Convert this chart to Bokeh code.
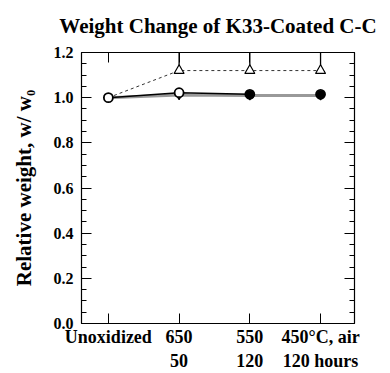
from bokeh.plotting import figure
from bokeh.models import Range1d, FixedTicker, LinearAxis, PrintfTickFormatter
from bokeh.embed import file_html
from bokeh.resources import INLINE

# data
title_text = "Weight Change of K33-Coated C-C"
x_pos = [1, 2, 3, 4]
x_labels = ["Unoxidized", "650\n50", "550\n120", "450°C, air\n120 hours"]
tri_vals = [1.0, 1.12, 1.12, 1.12]
tri_err_top = [1.0, 1.30, 1.30, 1.30]
circ_vals = [1.0, 1.022, 1.015, 1.015]
diam_vals = [1.0, 1.012, 1.010, 1.010]
fill_x = [3, 4]
fill_vals = [1.013, 1.013]
y_ticks = [0.0, 0.2, 0.4, 0.6, 0.8, 1.0, 1.2]
y_minor = [round(i * 0.05, 2) for i in range(25)]

FONT = "Liberation Serif"

p = figure(width=390, height=373, output_backend="svg", toolbar_location=None,
           x_range=Range1d(0.62, 4.48), y_range=Range1d(0.0, 1.2),
           title=title_text,
           min_border_left=81, min_border_right=36, min_border_top=52, min_border_bottom=49)

p.title.align = "center"
p.title.vertical_align = "top"
p.title.text_font = FONT
p.title.text_font_size = "21px"
p.title.text_font_style = "bold"
p.title.text_color = "black"
p.title.standoff = 25
p.title.offset = -10

p.grid.visible = False
p.outline_line_color = "black"
p.outline_line_width = 1.2
p.background_fill_color = "white"
p.border_fill_color = "white"

# x axis (bottom)
xa = p.xaxis[0]
xa.ticker = FixedTicker(ticks=x_pos)
xa.major_label_overrides = {k: v for k, v in zip(x_pos, x_labels)}
xa.major_tick_in = 10
xa.major_tick_out = 0
xa.major_tick_line_color = "black"
xa.minor_tick_line_color = None
xa.axis_line_color = None
xa.major_label_text_font = FONT
xa.major_label_text_font_style = "bold"
xa.major_label_text_font_size = "18px"
xa.major_label_text_color = "black"
xa.major_label_standoff = 3

# y axis (left)
ya = p.yaxis[0]
ya.ticker = FixedTicker(ticks=y_ticks, minor_ticks=y_minor)
ya.formatter = PrintfTickFormatter(format="%.1f")
ya.major_tick_in = 10
ya.major_tick_out = 0
ya.minor_tick_in = 5
ya.minor_tick_out = 0
ya.major_tick_line_color = "black"
ya.minor_tick_line_color = "black"
ya.axis_line_color = None
ya.major_label_text_font = FONT
ya.major_label_text_font_style = "bold"
ya.major_label_text_font_size = "16px"
ya.major_label_text_color = "black"
ya.major_label_standoff = 8
ya.axis_label = "Relative weight, w/ w₀"
ya.axis_label_text_font = FONT
ya.axis_label_text_font_style = "bold"
ya.axis_label_text_font_size = "21px"
ya.axis_label_text_color = "black"
ya.axis_label_standoff = 15

# right axis (ticks only)
ra = LinearAxis(ticker=FixedTicker(ticks=y_ticks, minor_ticks=y_minor),
                major_tick_in=10, major_tick_out=0, minor_tick_in=5, minor_tick_out=0,
                major_tick_line_color="black", minor_tick_line_color="black",
                axis_line_color=None, major_label_text_color=None)
p.add_layout(ra, "right")

# top axis (ticks only)
ta = LinearAxis(ticker=FixedTicker(ticks=x_pos), major_tick_in=10, major_tick_out=0,
                major_tick_line_color="black",
                minor_tick_line_color=None, axis_line_color=None,
                major_label_overrides={k: "" for k in x_pos},
                major_label_standoff=0, major_label_text_color=None)
p.add_layout(ta, "above")

# triangle series with error bars
p.segment(x0=x_pos[1:], y0=tri_vals[1:], x1=x_pos[1:], y1=tri_err_top[1:],
          line_color="black", line_width=1.3)
p.line(x_pos, tri_vals, line_color="#333333", line_width=1, line_dash="3 3")
p.scatter(x_pos[1:], tri_vals[1:], marker="triangle", size=10, fill_color="white",
          line_color="black", line_width=1.2)

# diamond series (grey line)
p.line(x_pos, diam_vals, line_color="#999999", line_width=3)
p.scatter(x_pos, diam_vals, marker="inverted_triangle", size=8, fill_color="white",
          line_color="black", line_width=1.2)

# circle series (black line up to 550)
p.line(x_pos[:3], circ_vals[:3], line_color="black", line_width=1.5)
p.scatter(x_pos, circ_vals, marker="circle", size=9, fill_color="white",
          line_color="black", line_width=1.8)

# filled circles
p.scatter(fill_x, fill_vals, marker="circle", size=8, fill_color="black",
          line_color="black", line_width=1)

open("out.html", "w").write(file_html(p, INLINE))
